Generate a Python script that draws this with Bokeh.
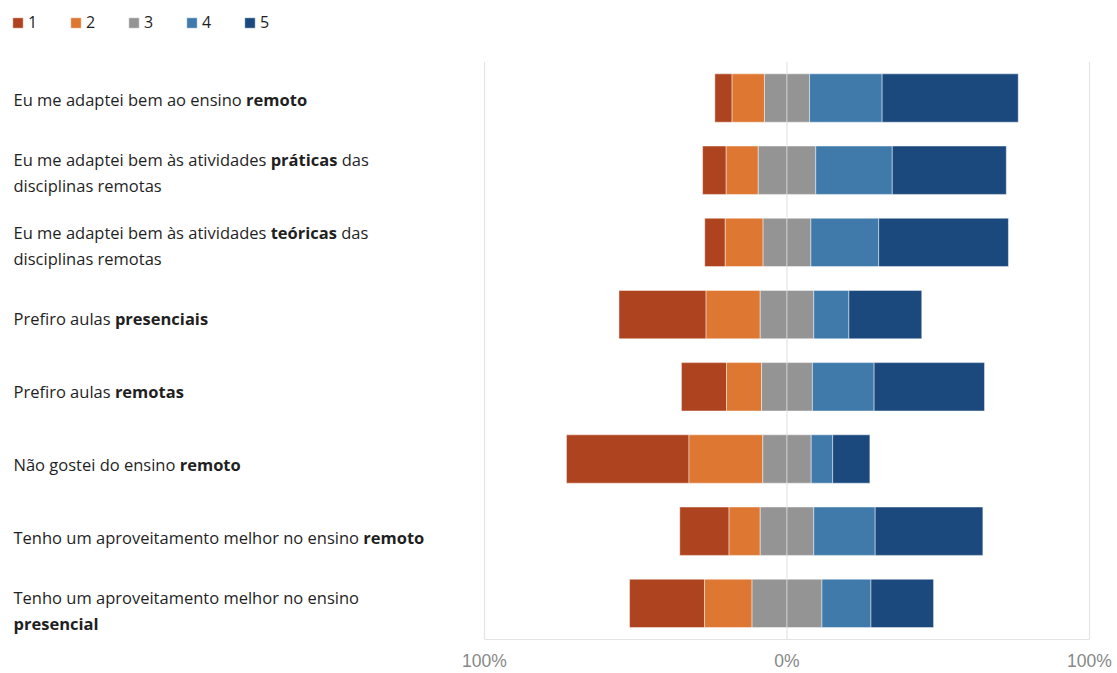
import os
import glob
import subprocess
import numpy as np
from bokeh.plotting import figure
from bokeh.models import ColumnDataSource, Range1d, FixedTicker, Legend, LegendItem
from bokeh.core.properties import value
from bokeh.embed import file_html
from bokeh.resources import INLINE

# ---------------- data ----------------
questions = [
    "Eu me adaptei bem ao ensino **remoto**",
    "Eu me adaptei bem às atividades **práticas** das\ndisciplinas remotas",
    "Eu me adaptei bem às atividades **teóricas** das\ndisciplinas remotas",
    "Prefiro aulas **presenciais**",
    "Prefiro aulas **remotas**",
    "Não gostei do ensino **remoto**",
    "Tenho um aproveitamento melhor no ensino **remoto**",
    "Tenho um aproveitamento melhor no ensino\n**presencial**",
]
levels = ["1", "2", "3", "4", "5"]
resp_1 = [5.7, 7.8, 6.8, 28.8, 14.9, 40.5, 16.3, 24.8]
resp_2 = [10.7, 10.6, 12.5, 17.9, 11.6, 24.4, 10.3, 15.7]
resp_3 = [14.9, 19.0, 15.8, 17.7, 16.8, 16.0, 17.7, 23.1]
resp_4 = [24.0, 25.3, 22.4, 11.6, 20.4, 7.1, 20.3, 16.2]
resp_5 = [45.0, 37.7, 42.9, 24.1, 36.5, 12.3, 35.6, 20.7]
axis_ticks = [-100, 0, 100]
axis_tick_labels = ["100%", "0%", "100%"]

colors = ["#AE441F", "#DD7731", "#949494", "#3F7AAB", "#1B497D"]

# ---------------- layout constants ----------------
W, H = 1117, 673
BOTTOM = 28                          # space below the bars for tick labels
BARS_TOP = 62                        # pixel where the bar area begins
PX_NEG, PX_POS = 484, 1089          # pixel positions of -100% / +100%
scale = (PX_POS - PX_NEG) / 200.0
X_START = -100 - PX_NEG / scale
X_END = 100 + (W - PX_POS) / scale
n_rows = len(questions)
row_px = (H - BOTTOM - BARS_TOP) / n_rows
Y_START = -0.5
Y_END = -0.5 + (H - BOTTOM) / row_px
LABEL_FONT = "Open Sans"
TEXT_COLOR = "#1f1f1f"


# ---------------- text measuring (for mixed bold labels) ----------------
def _norm(s):
    return os.path.basename(s).lower().replace("-", "").replace("_", "").replace(" ", "")


def _font_path(bold):
    try:
        style = "Bold" if bold else "Regular"
        out = subprocess.run(["fc-match", "-f", "%{file}", f"Open Sans:style={style}"],
                             capture_output=True, text=True, timeout=10).stdout.strip()
        if out and "opensans" in _norm(out) and os.path.exists(out):
            return out
    except Exception:
        pass
    cands = []
    for root in ["/usr/share/fonts", "/usr/local/share/fonts",
                 os.path.expanduser("~/.fonts"), os.path.expanduser("~/.local/share/fonts")]:
        cands += glob.glob(os.path.join(root, "**", "*.ttf"), recursive=True)
        cands += glob.glob(os.path.join(root, "**", "*.otf"), recursive=True)
    cands = [c for c in cands if "opensans" in _norm(c) and "italic" not in _norm(c)
             and "condensed" not in _norm(c)]
    if not cands:
        return None
    key = "bold" if bold else "regular"
    exact = [c for c in cands if _norm(c).startswith("opensans" + key)]
    if exact:
        return sorted(exact, key=len)[0]
    var = [c for c in cands if "wght" in _norm(c)]
    if var:
        return var[0]
    return sorted(cands, key=len)[0]


def _load(bold):
    try:
        from PIL import ImageFont
        path = _font_path(bold)
        if path is None:
            return None
        f = ImageFont.truetype(path, 100)
        try:
            names = f.get_variation_names()
            want = b"Bold" if bold else b"Regular"
            if want in names:
                f.set_variation_by_name(want)
        except Exception:
            pass
        return f
    except Exception:
        return None


_FONTS = {False: _load(False), True: _load(True)}


def text_width(s, bold, size):
    f = _FONTS[bold]
    if f is not None:
        try:
            return f.getlength(s) * size / 100.0
        except Exception:
            pass
    return len(s) * size * (0.57 if bold else 0.52)


def parse(q):
    lines = []
    for line in q.split("\n"):
        parts = line.split("**")
        segs = [(t, i % 2 == 1) for i, t in enumerate(parts) if t]
        lines.append(segs)
    return lines


# font size fitted so the longest one-line label spans like the reference (~430 px)
ref_line = parse(questions[6])[0]
w15 = sum(text_width(t, b, 15) for t, b in ref_line)
LABEL_SIZE = max(13.5, min(16.5, 15 * 430.0 / w15)) if w15 > 0 else 15

# ---------------- bars ----------------
ypos = np.arange(n_rows)[::-1].astype(float)   # first question on top
r1, r2, r3, r4, r5 = (np.array(a, dtype=float) for a in (resp_1, resp_2, resp_3, resp_4, resp_5))
half3 = r3 / 2.0
edges = [
    (-(r1 + r2 + half3), -(r2 + half3)),
    (-(r2 + half3), -half3),
    (-half3, np.zeros_like(half3)),
    (np.zeros_like(half3), half3),
    (half3, half3 + r4),
    (half3 + r4, half3 + r4 + r5),
]
seg_level = [0, 1, 2, 2, 3, 4]

p = figure(width=W, height=H, output_backend="svg", toolbar_location=None,
           x_range=Range1d(X_START, X_END),
           y_range=Range1d(Y_START, Y_END),
           y_axis_location=None,
           min_border_left=0, min_border_right=0,
           min_border_top=0, min_border_bottom=BOTTOM)
p.outline_line_color = None
p.background_fill_color = "white"
p.border_fill_color = "white"
p.xgrid.visible = False
p.ygrid.visible = False

# vertical grid lines only across the bar area
p.segment(x0=axis_ticks, x1=axis_ticks, y0=[-0.5] * len(axis_ticks),
          y1=[n_rows - 0.5] * len(axis_ticks), line_color="#e4e4e4", line_width=1.2)

renderers = {}
for (left, right), lv in zip(edges, seg_level):
    src = ColumnDataSource(dict(y=ypos, left=left, right=right))
    r = p.hbar(y="y", left="left", right="right", height=0.67, source=src,
               fill_color=colors[lv], line_color="white", line_alpha=0.45, line_width=1)
    renderers.setdefault(lv, r)

# ---------------- axis ----------------
p.xaxis.ticker = FixedTicker(ticks=axis_ticks)
p.xaxis.major_label_overrides = {t: l for t, l in zip(axis_ticks, axis_tick_labels)}
p.xaxis.bounds = (axis_ticks[0], axis_ticks[-1])
p.xaxis.axis_line_color = "#e4e4e4"
p.xaxis.major_tick_line_color = None
p.xaxis.minor_tick_line_color = None
p.xaxis.major_label_standoff = 5
p.xaxis.major_label_text_color = "#888888"
p.xaxis.major_label_text_font = "Liberation Sans"
p.xaxis.major_label_text_font_size = "17.5px"

# ---------------- labels with bold parts ----------------
LINE_GAP = 26
tx = {False: dict(x=[], y=[], xo=[], yo=[], text=[]), True: dict(x=[], y=[], xo=[], yo=[], text=[])}
for ri, (q, yv) in enumerate(zip(questions, ypos)):
    lines = parse(q)
    n = len(lines)
    for li, segs in enumerate(lines):
        yo = 1.5 + 0.85 * ri + (li - (n - 1) / 2.0) * LINE_GAP
        cursor = 13.0
        for t, b in segs:
            stripped = t.lstrip(" ")
            lead = t[:len(t) - len(stripped)]
            cursor += text_width(lead, b, LABEL_SIZE) if lead else 0
            d = tx[b]
            d["x"].append(X_START)
            d["y"].append(yv)
            d["xo"].append(cursor)
            d["yo"].append(yo)
            d["text"].append(stripped.rstrip(" "))
            cursor += text_width(stripped, b, LABEL_SIZE)

for b in (False, True):
    p.text(x="x", y="y", text="text", x_offset="xo", y_offset="yo",
           source=ColumnDataSource(tx[b]),
           text_font=value(LABEL_FONT), text_font_size=f"{LABEL_SIZE:.2f}px",
           text_font_style="bold" if b else "normal",
           text_color=TEXT_COLOR, text_align="left", text_baseline="middle")

# ---------------- legend ----------------
legend = Legend(items=[LegendItem(label=lab, renderers=[renderers[i]]) for i, lab in enumerate(levels)],
                orientation="horizontal", location="top_left",
                glyph_width=13, glyph_height=13, label_standoff=4, label_width=20,
                label_height=14, spacing=21, padding=13, margin=11,
                label_text_font=LABEL_FONT, label_text_font_size="16px",
                label_text_color=TEXT_COLOR,
                border_line_color=None, background_fill_alpha=0)
p.add_layout(legend)

open("out.html", "w").write(file_html(p, INLINE))
